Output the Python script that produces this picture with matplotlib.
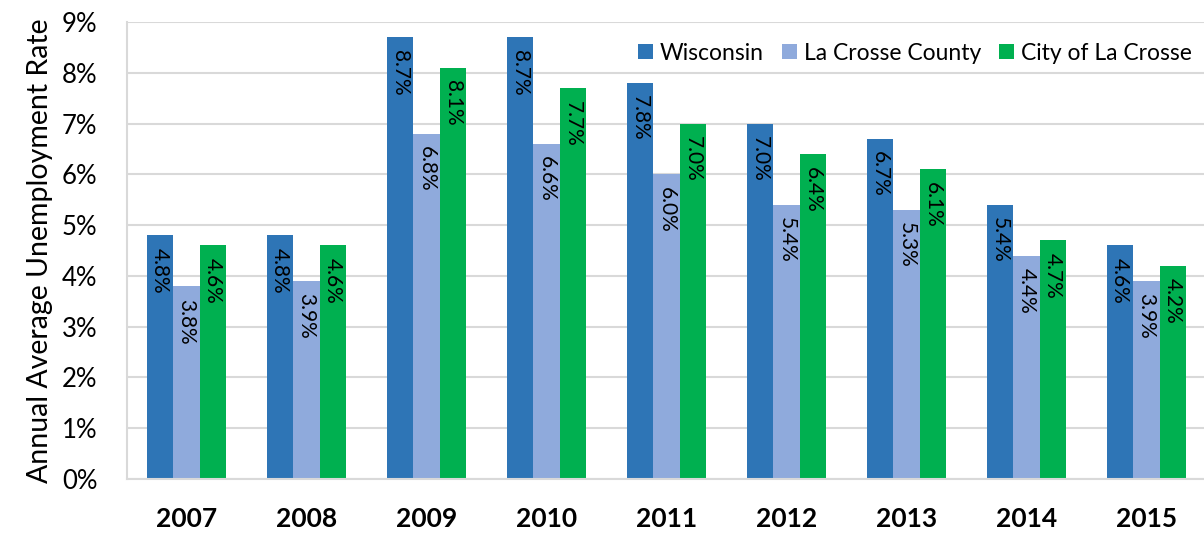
import matplotlib.pyplot as plt
import numpy as np

years = ['2007', '2008', '2009', '2010', '2011', '2012', '2013', '2014', '2015']
wisconsin = [4.8, 4.8, 8.7, 8.7, 7.8, 7.0, 6.7, 5.4, 4.6]
county = [3.8, 3.9, 6.8, 6.6, 6.0, 5.4, 5.3, 4.4, 3.9]
city = [4.6, 4.6, 8.1, 7.7, 7.0, 6.4, 6.1, 4.7, 4.2]

series = [
    ('Wisconsin', wisconsin, '#2E75B6'),
    ('La Crosse County', county, '#8FAADC'),
    ('City of La Crosse', city, '#00B050'),
]

plt.rcParams['font.family'] = ['Lato', 'DejaVu Sans']

fig = plt.figure(figsize=(12.04, 5.36), dpi=100)
ax = fig.add_axes([126.5 / 1204, 57 / 536, 1080 / 1204, 457 / 536])

x = np.arange(len(years))
w = 0.22
for i, (name, vals, color) in enumerate(series):
    pos = x + (i - 1) * w
    bars = ax.bar(pos, vals, w, color=color, label=name, zorder=2)
    for b, v in zip(bars, vals):
        ax.annotate(f'{v:.1f}%', (b.get_x() + b.get_width() / 2, v),
                    xytext=(0, -9), textcoords='offset points',
                    rotation=-90, ha='center', va='top', fontsize=15,
                    color='black', zorder=3)

ax.set_xlim(-0.5, len(years) - 0.5)
ax.set_ylim(0, 9)
ax.set_yticks(range(10))
ax.set_yticklabels([f'{t}%' for t in range(10)], fontsize=18.5)
ax.set_xticks(x)
ax.set_xticklabels(years, fontsize=19, fontweight='bold')
ax.tick_params(axis='y', length=0, pad=21)
ax.tick_params(axis='x', length=0, pad=20)
ax.yaxis.grid(True, color='#D9D9D9', linewidth=1.5, zorder=0)
ax.set_axisbelow(True)
for side in ['top', 'right']:
    ax.spines[side].set_visible(False)
ax.spines['left'].set_color('#D9D9D9')
ax.spines['left'].set_linewidth(1.5)
ax.spines['bottom'].set_color('#D9D9D9')
ax.spines['bottom'].set_linewidth(1.5)

ax.set_ylabel('Annual Average Unemployment Rate', fontsize=20.5, labelpad=6)

ax.legend(loc='upper right', bbox_to_anchor=(0.995, 0.975), ncol=3, frameon=False,
          fontsize=16.5, handlelength=0.65, handleheight=0.65, handletextpad=0.3,
          columnspacing=0.8, borderaxespad=0)

fig.savefig('out.png', dpi=100)
